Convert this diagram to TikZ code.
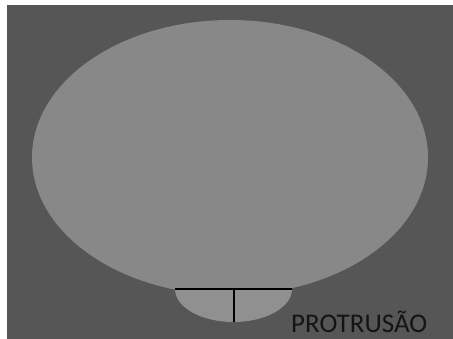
\documentclass[tikz,border=0pt]{standalone}
\usepackage{fontspec}
\setmainfont{Carlito}
\definecolor{bgdark}{RGB}{86,86,86}
\definecolor{ellgrey}{RGB}{136,136,136}
\definecolor{protgrey}{RGB}{144,144,144}
\definecolor{txt}{RGB}{20,20,20}
\begin{document}
\begin{tikzpicture}[x=1pt,y=-1pt,
  blk/.style={line width=2pt,black}]
\useasboundingbox (0,0) rectangle (453,339);
\fill[white] (0,0) rectangle (453,339);
\fill[bgdark] (7,5) rectangle (453,339);
\fill[ellgrey] (230,157.5) ellipse [x radius=198, y radius=137.5];
\coordinate (L) at (175,289);
\coordinate (R) at (292,289);
\coordinate (T) at (233.5,289);
\coordinate (B) at (233.5,322);
\fill[protgrey] (L) arc[start angle=180, end angle=360, x radius=58.5, y radius=-33] -- cycle;
\draw[blk] (L) -- (R);
\draw[blk] (T) -- (B);
\node[anchor=base west, inner sep=0pt, text=txt, font=\fontsize{27}{30}\selectfont] (lbl) at (291,333) {PROTRUSÃO};
\end{tikzpicture}
\end{document}
